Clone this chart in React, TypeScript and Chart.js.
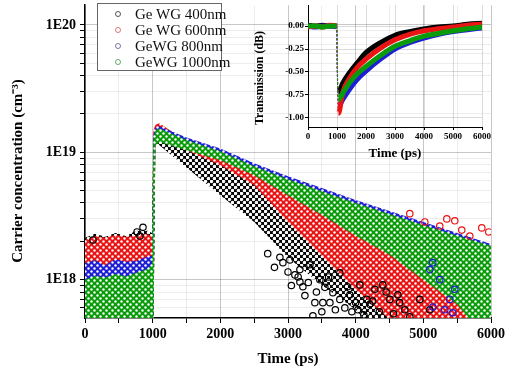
import React, { useEffect, useRef } from "react";
import { Chart, registerables } from "chart.js";
Chart.register(...registerables);

const FONT = "'Liberation Serif', 'Times New Roman', serif";

// ---------- main chart data (carrier concentration, cm^-3) ----------
const SERIES_LABELS = ["Ge WG 400nm", "Ge WG 600nm", "GeWG 800nm", "GeWG 1000nm"];
const SERIES_COLORS = ["rgb(0,0,0)", "rgb(235,20,20)", "rgb(30,30,215)", "rgb(10,155,10)"];
const LEGEND_MARKER_COLORS = ["#555", "#d77", "#77a", "#6a6"];

const BAND_T = [0, 150, 300, 450, 600, 750, 900, 990, 1010, 1040, 1100, 1500, 2000, 2500, 3000, 3500, 4000, 4500, 5000, 5500, 6000];

const BLACK_UP = [2.13e18, 2.29e18, 2.17e18, 2.33e18, 2.2e18, 2.41e18, 2.45e18, 2.33e18, 1.24e19, 1.36e19, 1.38e19, 1.07e19, 8.66e18, 6.26e18, 4.38e18, 3.05e18, 2.13e18, 1.49e18, 1.0e18, 6.4e17, 4.1e17];
const BLACK_LO = [1.38e18, 1.31e18, 1.43e18, 1.35e18, 1.4e18, 1.33e18, 1.45e18, 1.5e18, 3e17, 1.2e19, 1.135e19, 7.6e18, 4.6e18, 2.84e18, 1.49e18, 9.1e17, 5.8e17, 3e17, 3e17, 3e17, 3e17];

const RED_UP = [2.05e18, 2.2e18, 2.13e18, 2.25e18, 2.17e18, 2.2e18, 2.29e18, 2.2e18, 1.49e19, 1.65e19, 1.69e19, 1.22e19, 1.0e19, 7.5e18, 5.73e18, 4.45e18, 3.52e18, 2.74e18, 2.21e18, 1.78e18, 1.49e18];
const RED_LO = [1.16e18, 1.07e18, 1.11e18, 1.04e18, 1.13e18, 1.09e18, 1.2e18, 1.24e18, 3e17, 1.285e19, 1.24e19, 1.04e19, 7.91e18, 5.52e18, 2.84e18, 1.54e18, 8.36e17, 4.9e17, 3e17, 3e17, 3e17];

const BLUE_UP = [1.35e18, 1.42e18, 1.3e18, 1.45e18, 1.38e18, 1.4e18, 1.5e18, 1.55e18, 1.36e19, 1.57e19, 1.6e19, 1.31e19, 1.07e19, 8.2e18, 6.49e18, 5.24e18, 4.22e18, 3.46e18, 2.84e18, 2.33e18, 1.91e18];
const BLUE_LO = [8.8e17, 9.0e17, 8.6e17, 9.2e17, 8.8e17, 9.0e17, 9.4e17, 9.5e17, 3e17, 1.18e19, 1.24e19, 1.08e19, 9.0e18, 6.9e18, 4.8e18, 3.35e18, 2.3e18, 1.63e18, 1.05e18, 6.7e17, 3e17];

const GREEN_UP = [1.0e18, 1.07e18, 1.04e18, 1.11e18, 1.06e18, 1.13e18, 1.2e18, 1.29e18, 1.24e19, 1.49e19, 1.54e19, 1.25e19, 1.02e19, 7.76e18, 6.15e18, 4.95e18, 4.0e18, 3.28e18, 2.69e18, 2.21e18, 1.85e18];
const GREEN_LO = [3e17, 3e17, 3e17, 3e17, 3e17, 3e17, 3e17, 3e17, 3e17, 1.135e19, 1.2e19, 1.04e19, 8.66e18, 6.61e18, 4.61e18, 3.22e18, 2.21e18, 1.57e18, 1.0e18, 6.4e17, 3e17];

// individual (sparse) circles
const BLACK_PTS_T = [118, 768, 812, 857, 2700, 2800, 2880, 2925, 3000, 3028, 3050, 3102, 3150, 3176, 3176, 3220, 3250, 3300, 3323, 3368, 3397, 3420, 3471, 3500, 3515, 3545, 3600, 3619, 3663, 3700, 3766, 3766, 3840, 3880, 3914, 3944, 4000, 4033, 4062, 4120, 4165, 4209, 4250, 4283, 4350, 4401, 4450, 4505, 4560, 4623, 4650, 4726, 4800, 4948, 5096];
const BLACK_PTS_Y = [2.05e18, 2.37e18, 2.2e18, 2.58e18, 1.6e18, 1.25e18, 1.5e18, 1.36e18, 1.15e18, 1.43e18, 9.0e17, 1.09e18, 1.05e18, 9.6e17, 1.2e18, 8.8e17, 7.5e17, 9.5e17, 1.31e18, 5.2e17, 6.6e17, 8.0e17, 1.0e18, 5.6e17, 6.6e17, 8.7e17, 1.05e18, 6.6e17, 7.9e17, 5.8e17, 1.13e18, 7.0e17, 6.0e17, 8.8e17, 7.6e17, 5.6e17, 6.6e17, 5.8e17, 9.1e17, 5.3e17, 7.0e17, 6.4e17, 6.8e17, 8.4e17, 5.6e17, 9.1e17, 8.0e17, 7.0e17, 5.4e17, 7.6e17, 6.6e17, 5.8e17, 5.1e17, 7.0e17, 5.8e17];
const RED_PTS_T = [4800, 5022, 5243, 5347, 5465, 5568, 5687, 5864, 5967];
const RED_PTS_Y = [3.3e18, 2.84e18, 2.64e18, 3.0e18, 2.9e18, 2.45e18, 2.2e18, 2.55e18, 2.37e18];
const BLUE_PTS_T = [5096, 5140, 5140, 5243, 5317, 5391, 5436, 5465];
const BLUE_PTS_Y = [1.2e18, 1.36e18, 6.1e17, 1.0e18, 5.8e17, 7.0e17, 5.5e17, 8.4e17];
const GREEN_PTS_T: number[] = [];
const GREEN_PTS_Y: number[] = [];

const X_TICK_VALUES = [0, 500, 1000, 1500, 2000, 2500, 3000, 3500, 4000, 4500, 5000, 5500, 6000];
const X_TICK_LABELS = ["0", "", "1000", "", "2000", "", "3000", "", "4000", "", "5000", "", "6000"];
const Y_TICK_VALUES = [6e17, 7e17, 8e17, 9e17, 1e18, 2e18, 3e18, 4e18, 5e18, 6e18, 7e18, 8e18, 9e18, 1e19, 2e19, 3e19, 4e19, 5e19, 6e19, 7e19, 8e19, 9e19, 1e20];
const Y_MAJOR_VALUES = [1e18, 1e19, 1e20];
const Y_MAJOR_LABELS = ["1E18", "1E19", "1E20"];

// ---------- inset data (transmission, dB) ----------
const INSET_T = [0, 250, 500, 750, 990, 1010, 1050, 1200, 1450, 1700, 2000, 2500, 3000, 3500, 4000, 4500, 5000, 5500, 6000];
const INSET_BLACK = [0.01, 0.0, 0.01, 0.0, 0.0, -0.45, -0.72, -0.62, -0.5, -0.4, -0.29, -0.18, -0.1, -0.06, -0.03, -0.01, 0.0, 0.02, 0.03];
const INSET_RED = [-0.01, 0.0, -0.01, 0.01, 0.0, -0.5, -0.95, -0.72, -0.56, -0.45, -0.36, -0.24, -0.15, -0.09, -0.05, -0.03, -0.01, 0.01, 0.02];
const INSET_BLUE = [0.0, -0.01, 0.0, 0.0, -0.01, -0.5, -0.87, -0.8, -0.68, -0.58, -0.49, -0.36, -0.25, -0.18, -0.13, -0.09, -0.06, -0.04, -0.02];
const INSET_GREEN = [0.0, 0.0, -0.01, 0.0, 0.0, -0.45, -0.8, -0.73, -0.61, -0.52, -0.44, -0.32, -0.22, -0.16, -0.11, -0.08, -0.05, -0.03, -0.01];
const INSET_X_TICKS = [0, 1000, 2000, 3000, 4000, 5000, 6000];
const INSET_X_LABELS = ["0", "1000", "2000", "3000", "4000", "5000", "6000"];
const INSET_Y_TICKS = [-1, -0.75, -0.5, -0.25, 0];
const INSET_Y_LABELS = ["-1.00", "-0.75", "-0.50", "-0.25", "0.00"];

const zip = (t: number[], v: number[]) => t.map((x, i) => ({ x, y: v[i] }));

function makePattern(color: string, dot: number, size: number): any {
  const c = document.createElement("canvas");
  c.width = size;
  c.height = size;
  const g = c.getContext("2d");
  if (!g) return color;
  g.fillStyle = color;
  g.fillRect(0, 0, size, size);
  g.fillStyle = "#fff";
  const pts = [
    [size * 0.25, size * 0.25],
    [size * 0.75, size * 0.75],
  ];
  for (const [x, y] of pts) {
    g.beginPath();
    g.arc(x, y, dot, 0, Math.PI * 2);
    g.fill();
  }
  return g.createPattern(c, "repeat") || color;
}

const lookup = (vals: number[], labels: string[], v: number) => {
  for (let i = 0; i < vals.length; i++) {
    if (Math.abs(vals[i] - v) <= Math.abs(vals[i]) * 1e-6 + 1e-9) return labels[i];
  }
  return "";
};

const noEdgePadding = (s: any) => {
  s.paddingTop = 0;
  s.paddingBottom = 0;
  s.paddingLeft = 0;
  s.paddingRight = 0;
};

export default function App() {
  const mainRef = useRef<HTMLCanvasElement>(null);
  const insetRef = useRef<HTMLCanvasElement>(null);

  useEffect(() => {
    if (!mainRef.current || !insetRef.current) return;

    const bands = [
      { up: GREEN_UP, lo: GREEN_LO, color: SERIES_COLORS[3], dot: 1.2 },
      { up: BLUE_UP, lo: BLUE_LO, color: SERIES_COLORS[2], dot: 1.2 },
      { up: RED_UP, lo: RED_LO, color: SERIES_COLORS[1], dot: 1.2 },
      { up: BLACK_UP, lo: BLACK_LO, color: SERIES_COLORS[0], dot: 1.75 },
    ];
    const pts = [
      { t: GREEN_PTS_T, y: GREEN_PTS_Y, color: SERIES_COLORS[3] },
      { t: BLUE_PTS_T, y: BLUE_PTS_Y, color: SERIES_COLORS[2] },
      { t: RED_PTS_T, y: RED_PTS_Y, color: SERIES_COLORS[1] },
      { t: BLACK_PTS_T, y: BLACK_PTS_Y, color: SERIES_COLORS[0] },
    ];

    const datasets: any[] = [];
    pts.forEach((p) => {
      datasets.push({
        type: "line",
        data: zip(p.t, p.y),
        showLine: false,
        pointRadius: 3.2,
        pointBorderWidth: 1.2,
        pointBorderColor: p.color,
        pointBackgroundColor: "rgba(0,0,0,0)",
      });
    });
    bands.forEach((b) => {
      datasets.push({
        type: "line",
        data: zip(BAND_T, b.up),
        borderWidth: 0,
        borderColor: "rgba(0,0,0,0)",
        pointRadius: 0,
        fill: false,
        tension: 0,
      });
      datasets.push({
        type: "line",
        data: zip(BAND_T, b.lo),
        borderWidth: 0,
        borderColor: "rgba(0,0,0,0)",
        pointRadius: 0,
        fill: "-1",
        backgroundColor: makePattern(b.color, b.dot, 6),
        tension: 0,
      });
    });

    const majorGrid = "rgba(0,0,0,0.22)";
    const minorGrid = "rgba(0,0,0,0.07)";

    const main = new Chart(mainRef.current, {
      type: "line",
      data: { datasets },
      options: {
        animation: false,
        responsive: false,
        events: [],
        layout: { padding: { left: 0, right: 14, top: 5, bottom: 0 } },
        plugins: { legend: { display: false }, tooltip: { enabled: false } },
        scales: {
          x: {
            type: "linear",
            min: 0,
            max: 6000,
            afterBuildTicks: (s: any) => {
              s.ticks = X_TICK_VALUES.map((v) => ({ value: v }));
            },
            afterFit: (s: any) => {
              s.height = 54;
              noEdgePadding(s);
            },
            ticks: {
              autoSkip: false,
              maxRotation: 0,
              padding: 3,
              color: "#000",
              font: { family: FONT, size: 14, weight: "bold" },
              callback: (v: any) => lookup(X_TICK_VALUES, X_TICK_LABELS, Number(v)),
            },
            grid: {
              color: (c: any) => (c.tick && c.tick.value % 1000 === 0 ? majorGrid : minorGrid),
              tickColor: "#000",
              tickLength: 5,
            },
            border: { color: "#000", width: 1.5 },
            title: {
              display: true,
              text: "Time (ps)",
              color: "#000",
              font: { family: FONT, size: 15, weight: "bold" },
              padding: { top: 0, bottom: 4 },
            },
          },
          y: {
            type: "logarithmic",
            min: 5e17,
            max: 1.43e20,
            afterBuildTicks: (s: any) => {
              s.ticks = Y_TICK_VALUES.map((v) => ({ value: v }));
            },
            afterFit: (s: any) => {
              s.width = 85;
              noEdgePadding(s);
            },
            ticks: {
              autoSkip: false,
              padding: 4,
              color: "#000",
              font: { family: FONT, size: 14, weight: "bold" },
              callback: (v: any) => lookup(Y_MAJOR_VALUES, Y_MAJOR_LABELS, Number(v)),
            },
            grid: {
              color: (c: any) =>
                c.tick && lookup(Y_MAJOR_VALUES, Y_MAJOR_LABELS, c.tick.value) !== "" ? majorGrid : minorGrid,
              tickColor: "#000",
              tickLength: 5,
            },
            border: { color: "#000", width: 1.5 },
            title: {
              display: true,
              text: "Carrier concentration (cm⁻³)     ",
              color: "#000",
              font: { family: FONT, size: 15, weight: "bold" },
              padding: { top: 9, bottom: 0 },
            },
          },
        },
      } as any,
    });

    const insetSeries = [
      { v: INSET_GREEN, color: SERIES_COLORS[3] },
      { v: INSET_RED, color: SERIES_COLORS[1] },
      { v: INSET_BLUE, color: SERIES_COLORS[2] },
      { v: INSET_BLACK, color: SERIES_COLORS[0] },
    ];
    const inset = new Chart(insetRef.current, {
      type: "line",
      data: {
        datasets: insetSeries.map((s) => ({
          data: zip(INSET_T, s.v),
          borderColor: s.color,
          borderWidth: 5,
          pointRadius: 0,
          fill: false,
          cubicInterpolationMode: "monotone",
          segment: {
            borderWidth: (c: any) => (c.p0.parsed.x >= 990 && c.p1.parsed.x <= 1050 ? 1 : undefined),
            borderDash: (c: any) => (c.p0.parsed.x >= 990 && c.p1.parsed.x <= 1050 ? [2, 2] : undefined),
          },
        })),
      },
      options: {
        animation: false,
        responsive: false,
        events: [],
        layout: { padding: { left: 0, right: 18, top: 5, bottom: 0 } },
        plugins: { legend: { display: false }, tooltip: { enabled: false } },
        scales: {
          x: {
            type: "linear",
            min: 0,
            max: 6000,
            afterBuildTicks: (s: any) => {
              s.ticks = INSET_X_TICKS.map((v) => ({ value: v }));
            },
            afterFit: (s: any) => {
              s.height = 43;
              noEdgePadding(s);
            },
            ticks: {
              autoSkip: false,
              maxRotation: 0,
              padding: 1,
              color: "#000",
              font: { family: FONT, size: 9, weight: "bold" },
              callback: (v: any) => lookup(INSET_X_TICKS, INSET_X_LABELS, Number(v)),
            },
            grid: { color: "rgba(0,0,0,0.14)", tickColor: "#000", tickLength: 3 },
            border: { color: "#000", width: 1 },
            title: {
              display: true,
              text: "Time (ps)",
              color: "#000",
              font: { family: FONT, size: 13, weight: "bold" },
              padding: { top: 0, bottom: 9 },
            },
          },
          y: {
            type: "linear",
            min: -1.1,
            max: 0.23,
            afterBuildTicks: (s: any) => {
              s.ticks = INSET_Y_TICKS.map((v) => ({ value: v }));
            },
            afterFit: (s: any) => {
              s.width = 58;
              noEdgePadding(s);
            },
            ticks: {
              autoSkip: false,
              padding: 1,
              color: "#000",
              font: { family: FONT, size: 9, weight: "bold" },
              callback: (v: any) => lookup(INSET_Y_TICKS, INSET_Y_LABELS, Number(v)),
            },
            grid: { color: "rgba(0,0,0,0.14)", tickColor: "#000", tickLength: 3 },
            border: { color: "#000", width: 1 },
            title: {
              display: true,
              text: "Transmission (dB)        ",
              color: "#000",
              font: { family: FONT, size: 12, weight: "bold" },
              padding: { top: 3, bottom: 0 },
            },
          },
        },
      } as any,
    });

    return () => {
      main.destroy();
      inset.destroy();
    };
  }, []);

  return (
    <div style={{ position: "absolute", left: 0, top: 0, width: 505, height: 372, background: "#fff", overflow: "hidden" }}>
      <canvas ref={mainRef} width={505} height={372} style={{ position: "absolute", left: 0, top: 0, width: 505, height: 372 }} />
      <canvas ref={insetRef} width={250} height={170} style={{ position: "absolute", left: 250, top: 0, width: 250, height: 170 }} />
      <div
        style={{
          position: "absolute",
          left: 97,
          top: 3,
          width: 123,
          height: 66,
          border: "1px solid #666",
          background: "#fff",
          fontFamily: FONT,
          fontSize: 15,
          color: "#111",
        }}
      >
        {SERIES_LABELS.map((label, i) => (
          <div key={label} style={{ position: "absolute", left: 0, top: 2 + i * 16, height: 16, lineHeight: "16px", whiteSpace: "nowrap" }}>
            <span
              style={{
                position: "absolute",
                left: 17,
                top: 5,
                width: 4,
                height: 4,
                border: `1.2px solid ${LEGEND_MARKER_COLORS[i]}`,
                borderRadius: "50%",
              }}
            />
            <span style={{ position: "absolute", left: 37, top: 0 }}>{label}</span>
          </div>
        ))}
      </div>
    </div>
  );
}
